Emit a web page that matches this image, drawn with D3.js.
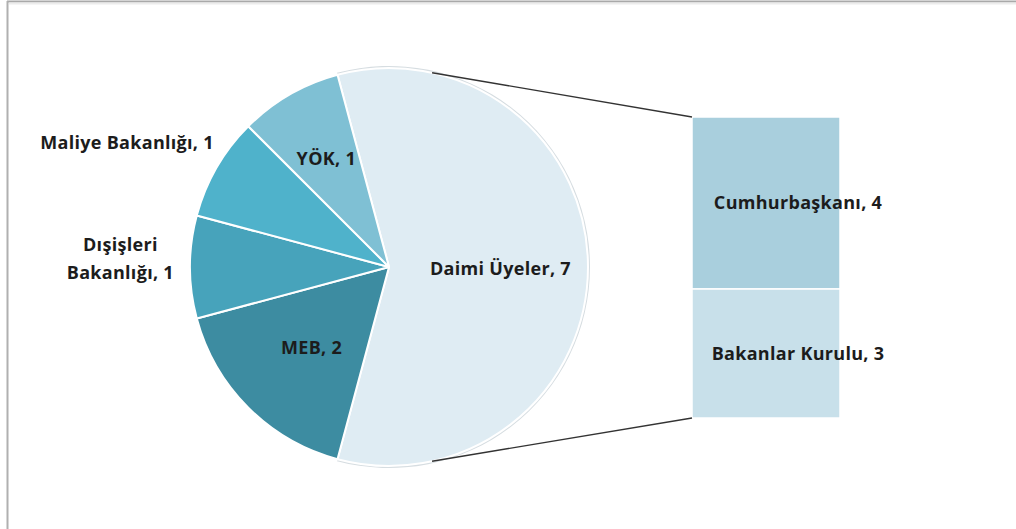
<!DOCTYPE html>
<html>
<head>
<meta charset="utf-8">
<script src="https://cdn.jsdelivr.net/npm/d3@7"></script>
<style>
  body { margin: 0; background: #fff; }
  svg { display: block; }
  text { font-family: "Open Sans", sans-serif; font-weight: 700; fill: #1c1c1c; }
</style>
</head>
<body>
<div id="figure"><svg></svg></div>
<script>
// Chart data
var pieLabels = ["Daimi Üyeler", "MEB", "Dışişleri Bakanlığı", "Maliye Bakanlığı", "YÖK"];
var pieValues = [7, 2, 1, 1, 1];
var barLabels = ["Cumhurbaşkanı", "Bakanlar Kurulu"];
var barValues = [4, 3];

// Colours
var pieColors = ["#dfecf3", "#3d8ca1", "#47a3bb", "#4fb2cb", "#7fc0d4"];
var barColors = ["#a9cfdd", "#c8e0ea"];

// Layout
var width = 1016;
var height = 529;
var cx = 389, cy = 267, radius = 199;
var barLeft = 692, barRight = 840, barTop = 117, barBottom = 418;

var svg = d3.select("#figure").select("svg")
    .attr("width", width).attr("height", height);

// frame of the chart area
svg.append("line").attr("x1", 7).attr("y1", 1.5).attr("x2", width).attr("y2", 1.5)
    .attr("stroke", "#a9a9a9").attr("stroke-width", 2);
svg.append("line").attr("x1", 7.5).attr("y1", 1).attr("x2", 7.5).attr("y2", height)
    .attr("stroke", "#b0b0b0").attr("stroke-width", 2);
svg.append("line").attr("x1", 9).attr("y1", 3.5).attr("x2", width).attr("y2", 3.5)
    .attr("stroke", "#ececec").attr("stroke-width", 2);

// pie: the "other" slice (Daimi Üyeler) is centred on the right side
var total = d3.sum(pieValues);
var startAngle = Math.PI / 2 - (pieValues[0] / total) * Math.PI;
var pie = d3.pie().sort(null)
    .startAngle(startAngle)
    .endAngle(startAngle + 2 * Math.PI);
var arcs = pie(pieValues);
var arc = d3.arc().innerRadius(0).outerRadius(radius);

var pg = svg.append("g").attr("transform", "translate(" + cx + "," + cy + ")");

// soft edge on the right side of the pie
pg.append("path")
    .attr("d", d3.arc().innerRadius(radius).outerRadius(radius + 2)
        .startAngle(startAngle).endAngle(Math.PI - startAngle))
    .attr("fill", "#d6dde1");

pg.selectAll("path.slice").data(arcs).enter()
    .append("path").attr("class", "slice")
    .attr("d", arc)
    .attr("fill", function (d, i) { return pieColors[i]; })
    .attr("stroke", "#ffffff")
    .attr("stroke-width", 2)
    .attr("stroke-linejoin", "round");

// bar of the "other" slice
var y = d3.scaleLinear().domain([0, d3.sum(barValues)]).range([barTop, barBottom]);
var stack = [];
var acc = 0;
barValues.forEach(function (v, i) {
    stack.push({label: barLabels[i], value: v, y0: acc, y1: acc + v, color: barColors[i]});
    acc += v;
});

svg.selectAll("rect.bar").data(stack).enter()
    .append("rect").attr("class", "bar")
    .attr("x", barLeft)
    .attr("y", function (d) { return y(d.y0); })
    .attr("width", barRight - barLeft)
    .attr("height", function (d) { return y(d.y1) - y(d.y0); })
    .attr("fill", function (d) { return d.color; })
    .attr("stroke", "#ffffff")
    .attr("stroke-width", 1.5);

// connector lines from the pie to the bar
var connAngle = 12.5 * Math.PI / 180;
var conn = [
    {x1: cx + radius * Math.sin(connAngle), y1: cy - radius * Math.cos(connAngle), x2: barLeft, y2: y(0)},
    {x1: cx + radius * Math.sin(connAngle), y1: cy + radius * Math.cos(connAngle), x2: barLeft, y2: y(d3.sum(barValues))}
];
svg.selectAll("line.conn").data(conn).enter()
    .append("line").attr("class", "conn")
    .attr("x1", function (d) { return d.x1; })
    .attr("y1", function (d) { return d.y1; })
    .attr("x2", function (d) { return d.x2; })
    .attr("y2", function (d) { return d.y2; })
    .attr("stroke", "#333333")
    .attr("stroke-width", 1.4);

// pie labels: horizontal / vertical distance factors and line breaks
var labelFx = [0.56, 0.55, 1.35, 1.52, 0.63];
var labelFy = [0.56, 0.55, 1.35, 1.25, 0.63];
var labelDy = [2, 3, -8, 0, 0];
var labelLines = [
    ["Daimi Üyeler, 7"],
    ["MEB, 2"],
    ["Dışişleri", "Bakanlığı, 1"],
    ["Maliye Bakanlığı, 1"],
    ["YÖK, 1"]
];
var fontSize = 18;
arcs.forEach(function (d, i) {
    var a = (d.startAngle + d.endAngle) / 2;
    var lx = cx + radius * labelFx[i] * Math.sin(a);
    var ly = cy - radius * labelFy[i] * Math.cos(a) + labelDy[i];
    var lines = labelLines[i];
    var t = svg.append("text")
        .attr("text-anchor", "middle")
        .attr("font-size", fontSize)
        .attr("letter-spacing", 0.3);
    lines.forEach(function (s, k) {
        t.append("tspan")
            .attr("x", lx)
            .attr("y", ly + (k - (lines.length - 1) / 2) * 28 + fontSize * 0.35)
            .text(s);
    });
});

// bar labels
svg.selectAll("text.barlabel").data(stack).enter()
    .append("text").attr("class", "barlabel")
    .attr("x", barRight - 42)
    .attr("y", function (d) { return (y(d.y0) + y(d.y1)) / 2 + fontSize * 0.35; })
    .attr("text-anchor", "middle")
    .attr("font-size", fontSize)
    .attr("letter-spacing", 0.3)
    .text(function (d) { return d.label + ", " + d.value; });
</script>
</body>
</html>
